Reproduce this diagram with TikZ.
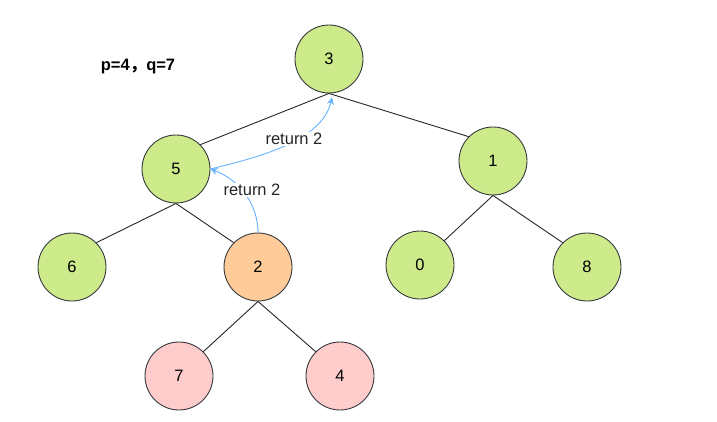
\documentclass[tikz,border=0pt]{standalone}
\usepackage{fontspec}
\setmainfont{Liberation Sans}
\newfontfamily\cjk{Noto Sans CJK SC}
\usetikzlibrary{arrows.meta}
\definecolor{gfill}{HTML}{CDEB8B}
\definecolor{ofill}{HTML}{FFCC99}
\definecolor{pfill}{HTML}{FFCCCC}
\definecolor{nstroke}{HTML}{36393D}
\definecolor{ablue}{HTML}{66B2FF}
\tikzset{
  tnode/.style={circle, draw=nstroke, line width=0.9pt, minimum size=68pt, inner sep=0pt, font=\fontsize{16.5}{18}\selectfont},
  gnode/.style={tnode, fill=gfill},
  onode/.style={tnode, fill=ofill},
  pnode/.style={tnode, fill=pfill},
  edge/.style={draw=black!85, line width=0.9pt},
  ret/.style={draw=ablue, line width=0.9pt, -{Stealth[length=7pt,width=7pt]}},
  retlbl/.style={fill=white, inner sep=1pt, text=black!85, font=\fontsize{16.5}{18}\selectfont}
}
\begin{document}
\begin{tikzpicture}[x=1pt,y=-1pt]
\useasboundingbox (0,0) rectangle (717,422);
\node[gnode] (n3) at (329,59) {3};
\node[gnode] (n5) at (176,169) {5};
\node[gnode] (n1) at (493,161) {1};
\node[gnode] (n6) at (72,267) {6};
\node[onode] (n2) at (258,267) {2};
\node[gnode] (n0) at (420,265) {0};
\node[gnode] (n8) at (587,267) {8};
\node[pnode] (n7) at (179,376) {7};
\node[pnode] (n4) at (340,376) {4};
\node[font=\bfseries\fontsize{16.5}{18}\selectfont] (pq) at (138,67) {p=4{\cjk ，}q=7};

\draw[edge] (n3.south) -- (n5.45);
\draw[edge] (n3.south) -- (n1.135);
\draw[edge] (n5.south) -- (n6.45);
\draw[edge] (n5.south) -- (n2.135);
\draw[edge] (n1.south) -- (n0.45);
\draw[edge] (n1.south) -- (n8.135);
\draw[edge] (n2.south) -- (n7.45);
\draw[edge] (n2.south) -- (n4.135);

\coordinate (a3) at ([yshift=-4pt,xshift=3pt]n3.south);
\draw[ret] (n2.north) .. controls (258,205) and (240,180) .. (n5.east);
\draw[ret] (n5.east) .. controls (255,158) and (322,142) .. (a3);
\node[retlbl] (l1) at (252,190) {return 2};
\node[retlbl] (l2) at (294,139) {return 2};
\end{tikzpicture}
\end{document}
